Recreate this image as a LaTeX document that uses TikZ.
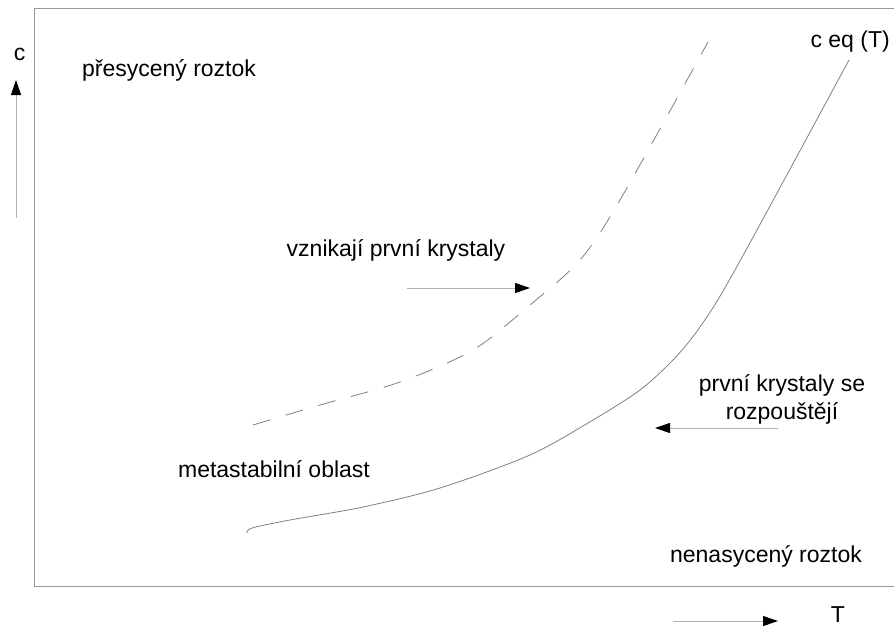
\documentclass[tikz,border=0pt]{standalone}
\usepackage{fontspec}
\setmainfont{Liberation Sans}
\usetikzlibrary{arrows.meta}

\begin{document}
\begin{tikzpicture}[
  x=1pt, y=-1pt,
  lbl/.style={font=\fontsize{23}{28}\selectfont, inner sep=0pt, anchor=base},
  frame/.style={draw=black!40, line width=0.8pt},
  curve/.style={draw=black!50, line width=0.8pt},
  ax/.style={draw=black!30, line width=1pt,
    -{Triangle[length=15pt, width=10pt, color=black]}}
]
\useasboundingbox (0,0) rectangle (894,626);

% ---- open frame of the diagram
\draw[frame] (894,8) -- (34,8) -- (34,586) -- (894,586);

% ---- texts
\node[lbl] (cy)    at (19.5,60) {c};
\node[lbl] (super) at (169,77)  {přesycený roztok};
\node[lbl, anchor=base east] (ceq) at (890,48) {c eq (T)};
\node[lbl] (arise) at (396,256) {vznikají první krystaly};
\node[lbl] (meta)  at (274,477) {metastabilní oblast};
\node[lbl, anchor=center, align=center] (dissolve) at (782,399)
  {první krystaly se\\rozpouštějí};
\node[lbl] (under) at (766,562) {nenasycený roztok};
\node[lbl] (tx)    at (838,622) {T};

% ---- arrow ends
\coordinate (cy0) at (16,218);  \coordinate (cy1) at (16,80);
\coordinate (ar0) at (407,288); \coordinate (ar1) at (530,288);
\coordinate (ds0) at (778,428); \coordinate (ds1) at (655,428);
\coordinate (tx0) at (673,621); \coordinate (tx1) at (778,621);

\foreach \a/\b in {cy0/cy1, ar0/ar1, ds0/ds1, tx0/tx1}
  \draw[ax] (\a) -- (\b);

% ---- equilibrium curve c eq (T)
\draw[curve] plot[smooth, tension=0.5] coordinates {
  (247,533) (252,528) (290,520) (363,507) (440,488) (530,455)
  (593,420) (640,390) (673,360) (700,327) (735,270) (849,60)};

% ---- limit of the metastable region
\draw[curve, dash pattern=on 18pt off 16pt] plot[smooth, tension=0.5] coordinates {
  (253,425) (320,405) (400,382) (473,350) (530,305)
  (580,260) (620,200) (708,42)};

\end{tikzpicture}
\end{document}
